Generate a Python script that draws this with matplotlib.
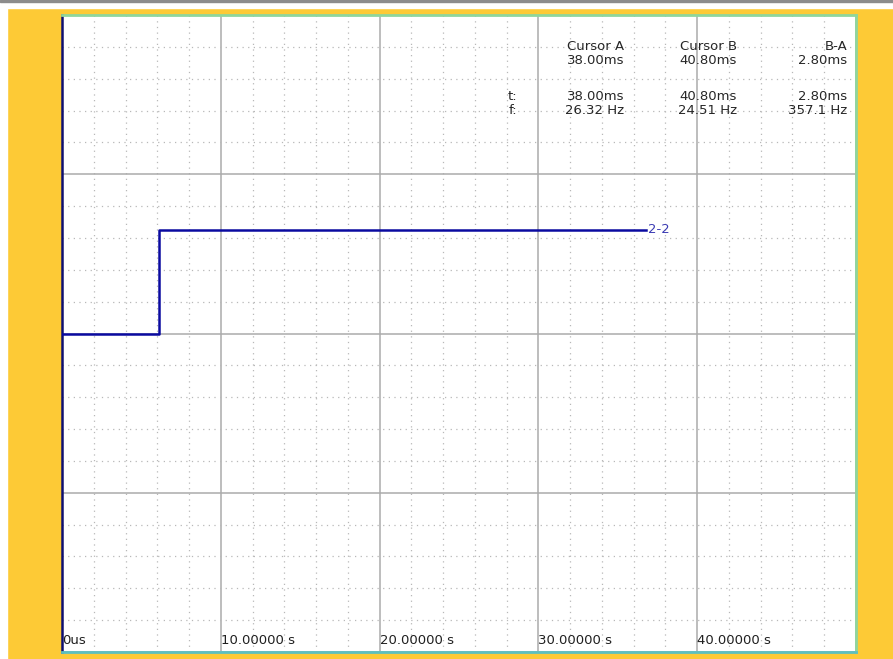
import numpy as np
import matplotlib
matplotlib.use('Agg')
import matplotlib.pyplot as plt
from matplotlib.patches import Rectangle
from matplotlib.transforms import blended_transform_factory

# trace 2-2 (time in s, level in divisions)
trace_t = [0.0, 6.1, 36.8]
trace_level = [2.0, 2.65, 2.65]
trace_name = '2-2'

# time axis
t_min, t_max = 0, 50
major_t = [0, 10, 20, 30, 40, 50]
tick_labels = ['0us', '10.00000 s', '20.00000 s', '30.00000 s', '40.00000 s']

# cursor readout table
cursor_cols = ['Cursor A', 'Cursor B', 'B-A']
cursor_pos = ['38.00ms', '40.80ms', '2.80ms']
cursor_t = ['38.00ms', '40.80ms', '2.80ms']
cursor_f = ['26.32 Hz', '24.51 Hz', '357.1 Hz']

W, H = 893, 659
yellow = '#FDCA36'

fig = plt.figure(figsize=(W / 100, H / 100), dpi=100, facecolor=yellow)

# window frame strips
fig.patches.append(Rectangle((0, 0), 7 / W, 1, transform=fig.transFigure, color='white', zorder=0))
fig.patches.append(Rectangle((0, 1 - 8 / H), 1, 8 / H, transform=fig.transFigure, color='white', zorder=0))
fig.patches.append(Rectangle((0, 1 - 2 / H), 1, 2 / H, transform=fig.transFigure, color='#8c8c8c', zorder=1))

left, right, top, bottom = 62, 856, 15, 652
ax = fig.add_axes([left / W, (H - bottom) / H, (right - left) / W, (bottom - top) / H])
ax.set_facecolor('white')
ax.set_xlim(t_min, t_max)
ax.set_ylim(0, 4)

ax.set_xticks(major_t)
ax.set_xticks(np.arange(t_min, t_max, 2), minor=True)
ax.set_yticks([0, 1, 2, 3, 4])
ax.set_yticks(np.arange(0, 4, 0.2), minor=True)
ax.tick_params(which='both', length=0, labelbottom=False, labelleft=False)
ax.grid(which='major', color='#ababab', linewidth=1.1, linestyle='-')
ax.grid(which='minor', color='#b8b8b8', linewidth=0.9, linestyle=(0, (1, 3.5)))
ax.set_axisbelow(True)

ax.spines['left'].set_color('#101070')
ax.spines['left'].set_linewidth(1.8)
ax.spines['top'].set_color('#8fd69c')
ax.spines['top'].set_linewidth(2)
ax.spines['right'].set_color('#8fd69c')
ax.spines['right'].set_linewidth(2)
ax.spines['bottom'].set_color('#5cc0c0')
ax.spines['bottom'].set_linewidth(2)

# trace
ax.plot(trace_t, trace_level, drawstyle='steps-post', color='#0a0aa0', linewidth=1.8, zorder=3)
ax.text(trace_t[-1] + 0.1, trace_level[-1], trace_name, color='#3c3cb4', fontsize=9.5,
        ha='left', va='center', zorder=4)

# time labels along the bottom
tr = blended_transform_factory(ax.transData, ax.transAxes)
for t, lab in zip(major_t, tick_labels):
    ax.text(t, 0.018, lab, transform=tr, ha='left', va='center', fontsize=9.5, color='#202020')

# cursor readouts
txt = dict(transform=fig.transFigure, fontsize=9.5, color='#262626', va='center')
col_right = [624, 737, 847]
for x, head, pos, tv, fv in zip(col_right, cursor_cols, cursor_pos, cursor_t, cursor_f):
    fig.text(x / W, 1 - 47 / H, head, ha='right', **txt)
    fig.text(x / W, 1 - 61 / H, pos, ha='right', **txt)
    fig.text(x / W, 1 - 97 / H, tv, ha='right', **txt)
    fig.text(x / W, 1 - 111 / H, fv, ha='right', **txt)
fig.text(517 / W, 1 - 97 / H, 't:', ha='right', **txt)
fig.text(517 / W, 1 - 111 / H, 'f:', ha='right', **txt)

fig.savefig('out.png', dpi=100, facecolor=yellow)
